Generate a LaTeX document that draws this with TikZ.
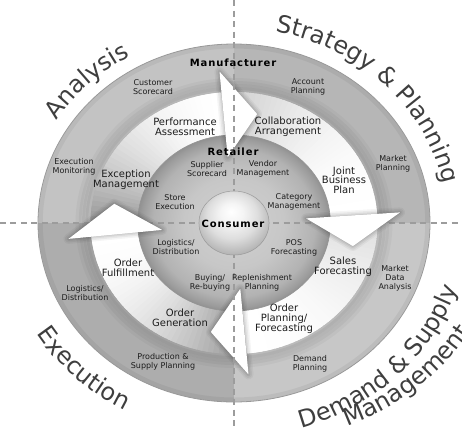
\documentclass[tikz,border=0pt]{standalone}
\usepackage{fontspec}
\setmainfont{DejaVu Sans}
\usetikzlibrary{decorations.text}

\definecolor{ink}{HTML}{1C1C1C}
\definecolor{titleink}{HTML}{3E3E3E}
\definecolor{ringTL}{HTML}{C3C3C3}
\definecolor{ringTR}{HTML}{B6B6B6}
\definecolor{ringBL}{HTML}{ADADAD}
\definecolor{ringBR}{HTML}{C7C7C7}
\definecolor{dashgray}{HTML}{9C9C9C}

\pgfdeclareradialshading{retailshade}{\pgfpoint{0bp}{0bp}}{%
  color(0bp)=(black!18); color(13bp)=(black!22); color(21bp)=(black!30);
  color(24bp)=(black!39); color(25bp)=(black!43); color(50bp)=(black!43)}
\pgfdeclareradialshading{consumershade}{\pgfpoint{-2bp}{9bp}}{%
  color(0bp)=(white); color(8bp)=(black!4); color(18bp)=(black!13);
  color(30bp)=(black!32); color(34bp)=(black!42); color(50bp)=(black!42)}

\newcommand{\titlefont}{\fontsize{24}{28}\selectfont\color{titleink}}

% shaft of one cycle arrow (clockwise), grey at the tail, white at the head
\newcommand{\cycleshaft}[3]{%
  \foreach \i in {0,...,39}{%
    \pgfmathsetmacro{\sa}{#1+(#2-#1)*\i/40}%
    \pgfmathsetmacro{\sb}{#1+(#2-#1)*(\i+1.8)/40}%
    \pgfmathsetmacro{\sk}{#3*(1-\i/40)*(1-\i/40)}%
    \fill[black!\sk] (\sa:86) arc[start angle=\sa, end angle=\sb, radius=86]
      -- (\sb:131) arc[start angle=\sb, end angle=\sa, radius=131] -- cycle;
  }}
% arrow head with a soft shadow, its base at angle #1
\newcommand{\cyclehead}[1]{%
  \pgfmathsetmacro{\ht}{#1-16}%
  \foreach \w/\o in {10/0.04,7/0.05,4/0.06,1.5/0.07}{%
    \draw[black, opacity=\o, line width=\w pt, line join=round]
      (#1:152) -- (\ht:111) -- (#1:66) -- cycle;}
  \fill[white] (#1:152) -- (\ht:111) -- (#1:66) -- cycle;
}

\begin{document}
\begin{tikzpicture}[x=1pt,y=1pt,
  smalllabel/.style={font=\fontsize{8}{8.8}\selectfont, text=ink, align=center, inner sep=0pt},
  flowlabel/.style={font=\fontsize{10}{9.6}\selectfont, text=ink, align=center, inner sep=0pt},
  tierlabel/.style={font=\fontsize{10}{12}\selectfont\bfseries\addfontfeature{LetterSpace=9}, text=black, inner sep=0pt},
  quadrule/.style={dashgray, line width=1.2pt, dash pattern=on 6pt off 4.5pt}]
\useasboundingbox (-234,-206) rectangle (228,223);
\coordinate (W) at (-234,0);
\coordinate (E) at (228,0);
\coordinate (N) at (0,223);
\coordinate (S) at (0,-206);

% outer (manufacturer) disc, arrow ring and retailer disc
\begin{scope}[xscale=1.095]
  \fill[ringTR] (0,0) -- (0:179) arc[start angle=0,end angle=90,radius=179] -- cycle;
  \fill[ringTL] (0,0) -- (90:179) arc[start angle=90,end angle=180,radius=179] -- cycle;
  \fill[ringBL] (0,0) -- (180:179) arc[start angle=180,end angle=270,radius=179] -- cycle;
  \fill[ringBR] (0,0) -- (270:179) arc[start angle=270,end angle=360,radius=179] -- cycle;
  \draw[black!40, line width=0.8pt] (0,0) circle[radius=179];
  \draw[black, opacity=0.05, line width=4pt] (0,0) circle[radius=176.5];
  \foreach \r/\o in {142/0.03,139/0.04,136/0.05,133/0.06}
    \draw[black, opacity=\o, line width=6pt] (0,0) circle[radius=\r];
  \cycleshaft{186}{95}{46}
  \cycleshaft{95}{4}{20}
  \cycleshaft{4}{-85}{14}
  \cycleshaft{-85}{-174}{42}
  \shade[shading=retailshade] (0,0) circle[radius=88];
  \draw[black!42, line width=0.6pt] (0,0) circle[radius=88];
\end{scope}

\draw[quadrule] (W) -- (E);

\begin{scope}[xscale=1.095]
  \cyclehead{95}
  \cyclehead{4}
  \cyclehead{-85}
  \cyclehead{186}
\end{scope}

\draw[quadrule] (N) -- (S);

\begin{scope}[xscale=1.095]
  \shade[shading=consumershade] (0,0) circle[radius=32];
  \draw[black!40, line width=0.5pt] (0,0) circle[radius=32];
\end{scope}

% quadrant titles
\path[decorate, decoration={text along path, text align=center,
    text={|\titlefont|Analysis}}]
  (160:210 and 192) arc[start angle=160, end angle=108, x radius=210, y radius=192];
\path[decorate, decoration={text along path, text align=center,
    text={|\titlefont|Strategy {\&} Planning}}]
  (104:213.5 and 195) arc[start angle=104, end angle=-16, x radius=213.5, y radius=195];
\path[decorate, decoration={text along path, text align=center,
    text={|\titlefont|Execution}}]
  (190:232 and 212) arc[start angle=190, end angle=262, x radius=232, y radius=212];
\path[decorate, decoration={text along path, text align=center,
    text={|\titlefont|Demand {\&} Supply}}]
  (-95:234.3 and 214) arc[start angle=-95, end angle=6, x radius=234.3, y radius=214];
\begin{scope}[shift={(17,14.2)}]
\path[decorate, decoration={text along path, text align=center,
    text={|\titlefont|Management}}]
  (-98.5:257.3 and 235) arc[start angle=-98.5, end angle=1.5, x radius=257.3, y radius=235];
\end{scope}

% manufacturer ring
\node[tierlabel] (manuf) at (-1,160) {Manufacturer};
\node[smalllabel] (cust) at (-81,136) {Customer\\Scorecard};
\node[smalllabel] (acct) at (74,136) {Account\\Planning};
\node[smalllabel] (execmon) at (-160,56) {Execution\\Monitoring};
\node[smalllabel] (mktplan) at (159,59) {Market\\Planning};
\node[smalllabel] (logout) at (-149,-70) {Logistics/\\Distribution};
\node[smalllabel] (mktdata) at (161,-55) {Market\\Data\\Analysis};
\node[smalllabel] (prod) at (-71,-139) {Production \&\\Supply Planning};
\node[smalllabel] (dmdplan) at (76,-141) {Demand\\Planning};

% arrow ring
\node[flowlabel] (perf) at (-49,96) {Performance\\Assessment};
\node[flowlabel] (collab) at (54,96) {Collaboration\\Arrangement};
\node[flowlabel] (joint) at (110,43) {Joint\\Business\\Plan};
\node[flowlabel] (sales) at (109,-44) {Sales\\Forecasting};
\node[flowlabel] (ordplan) at (50,-96) {Order\\Planning/\\Forecasting};
\node[flowlabel] (ordgen) at (-54,-95) {Order\\Generation};
\node[flowlabel] (ordful) at (-106,-45) {Order\\Fulfillment};
\node[flowlabel] (except) at (-108,43) {Exception\\Management};

% retailer disc
\node[tierlabel] (retail) at (-1,71) {Retailer};
\node[smalllabel] (suppl) at (-27,54) {Supplier\\Scorecard};
\node[smalllabel] (vendor) at (29,54) {Vendor\\Management};
\node[smalllabel] (store) at (-59,21) {Store\\Execution};
\node[smalllabel] (categ) at (60,21) {Category\\Management};
\node[smalllabel] (logret) at (-58,-24) {Logistics/\\Distribution};
\node[smalllabel] (pos) at (60,-25) {POS\\Forecasting};
\node[smalllabel] (buying) at (-24,-60) {Buying/\\Re-buying};
\node[smalllabel] (replen) at (28,-60) {Replenishment\\Planning};

\node[tierlabel] (consumer) at (-1,-1) {Consumer};
\end{tikzpicture}
\end{document}
